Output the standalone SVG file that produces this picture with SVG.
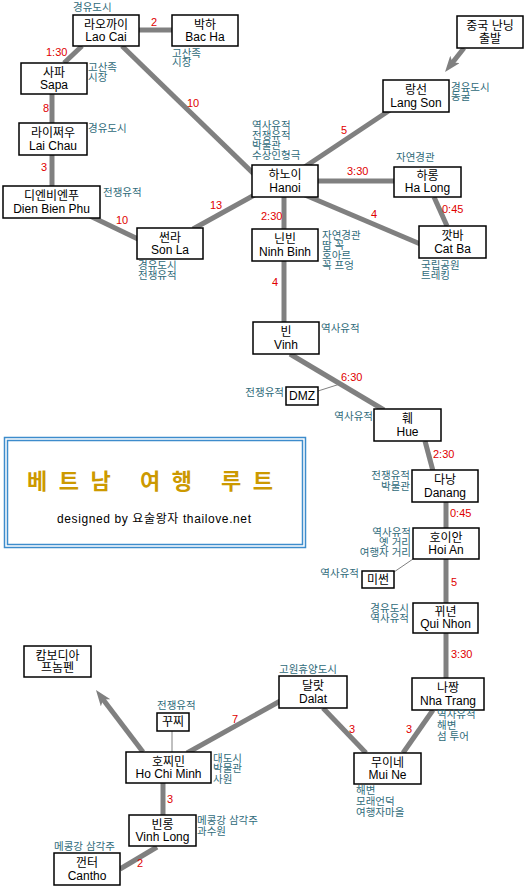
<svg xmlns="http://www.w3.org/2000/svg" width="525" height="889" viewBox="0 0 525 889">
<defs>
<style>
.n rect{fill:#fff;stroke:#000;stroke-width:1.5}
text{font-family:"Liberation Sans","Noto Sans CJK KR",sans-serif}
.t{font-size:12px;text-anchor:middle;fill:#000}
.a{font-size:10.5px;fill:#2f6b7a}
.ar{font-size:10.5px;fill:#2f6b7a;text-anchor:end}
.r{font-size:11px;fill:#e00000}
.e{stroke:#808080;stroke-width:5;fill:none}
.th{stroke:#808080;stroke-width:1;fill:none}
</style>
<marker id="ah" viewBox="0 0 16 12" refX="8" refY="6" markerWidth="16" markerHeight="12" markerUnits="userSpaceOnUse" orient="auto">
<path d="M0,0 L16,6 L0,12 L4,6 z" fill="#808080"/>
</marker>
</defs>
<rect width="525" height="889" fill="#fff"/>

<g id="connectors">
<line class="e" x1="139" y1="30" x2="172" y2="30"/>
<line class="e" x1="82" y1="46" x2="64" y2="63"/>
<line class="e" x1="122" y1="46" x2="258" y2="178"/>
<line class="e" x1="52" y1="94" x2="52" y2="123"/>
<line class="e" x1="52" y1="155" x2="52" y2="186"/>
<line class="e" x1="90" y1="216" x2="140" y2="240"/>
<line class="e" x1="193" y1="229" x2="258" y2="193"/>
<line class="e" x1="390" y1="110" x2="300" y2="170"/>
<line class="e" x1="464" y1="48" x2="450" y2="65.7" marker-end="url(#ah)"/>
<line class="e" x1="318" y1="181" x2="394" y2="181"/>
<line class="e" x1="434" y1="197" x2="447" y2="226"/>
<line class="e" x1="305" y1="195" x2="425" y2="246"/>
<line class="e" x1="284" y1="197" x2="284" y2="229"/>
<line class="e" x1="284" y1="261" x2="284" y2="322"/>
<line class="e" x1="290" y1="354" x2="384" y2="410"/>
<line class="th" x1="318" y1="391" x2="340" y2="384"/>
<line class="e" x1="425" y1="441" x2="433" y2="471"/>
<line class="e" x1="446" y1="502" x2="446" y2="528"/>
<line class="th" x1="394" y1="572" x2="413" y2="559"/>
<line class="e" x1="446" y1="559" x2="446" y2="603"/>
<line class="e" x1="446" y1="633" x2="446" y2="678"/>
<line class="e" x1="433" y1="710" x2="403" y2="753"/>
<line class="e" x1="323" y1="708" x2="366" y2="753"/>
<line class="e" x1="187" y1="753" x2="282" y2="700"/>
<line class="e" x1="143" y1="752" x2="100.8" y2="696.4" marker-end="url(#ah)"/>
<line class="th" x1="172" y1="731" x2="172" y2="752"/>
<line class="e" x1="163" y1="783" x2="163" y2="815"/>
<line class="e" x1="157" y1="847" x2="120" y2="869"/>
</g>

<g id="edge-labels">
<text class="r" x="151" y="26">2</text>
<text class="r" x="46" y="56">1:30</text>
<text class="r" x="187" y="107">10</text>
<text class="r" x="43" y="112">8</text>
<text class="r" x="41" y="171">3</text>
<text class="r" x="116" y="224">10</text>
<text class="r" x="210" y="209">13</text>
<text class="r" x="341" y="134">5</text>
<text class="r" x="347" y="175">3:30</text>
<text class="r" x="442" y="213">0:45</text>
<text class="r" x="371" y="218">4</text>
<text class="r" x="261" y="220">2:30</text>
<text class="r" x="272" y="286">4</text>
<text class="r" x="341" y="381">6:30</text>
<text class="r" x="433" y="458">2:30</text>
<text class="r" x="450" y="517">0:45</text>
<text class="r" x="451" y="586">5</text>
<text class="r" x="451" y="658">3:30</text>
<text class="r" x="349" y="733">3</text>
<text class="r" x="406" y="733">3</text>
<text class="r" x="232" y="723">7</text>
<text class="r" x="167" y="803">3</text>
<text class="r" x="137" y="867">2</text>
</g>

<g id="nanning" class="n"><rect x="457" y="16" width="66" height="32"/><text class="t" x="490" y="30">중국 난닝</text><text class="t" x="490" y="43">출발</text></g>
<g id="laocai" class="n"><rect x="73" y="15" width="66" height="31"/><text class="t" x="106" y="29">라오까이</text><text class="t" x="106" y="41">Lao Cai</text>
<text class="a" x="73" y="11">경유도시</text></g>
<g id="bacha" class="n"><rect x="172" y="15" width="66" height="31"/><text class="t" x="205" y="29">박하</text><text class="t" x="205" y="41">Bac Ha</text>
<text class="a" x="172" y="57">고산족</text><text class="a" x="172" y="66">시장</text></g>
<g id="sapa" class="n"><rect x="21" y="63" width="66" height="31"/><text class="t" x="54" y="77">사파</text><text class="t" x="54" y="89">Sapa</text>
<text class="a" x="88" y="71">고산족</text><text class="a" x="88" y="81">시장</text></g>
<g id="langson" class="n"><rect x="383" y="80" width="66" height="32"/><text class="t" x="416" y="94">랑선</text><text class="t" x="416" y="107">Lang Son</text>
<text class="a" x="451" y="91">경유도시</text><text class="a" x="451" y="100">동굴</text></g>
<g id="laichau" class="n"><rect x="19" y="123" width="68" height="32"/><text class="t" x="53" y="137">라이쩌우</text><text class="t" x="53" y="150">Lai Chau</text>
<text class="a" x="88" y="132">경유도시</text></g>
<g id="hanoi" class="n"><rect x="252" y="165" width="66" height="32"/><text class="t" x="285" y="179">하노이</text><text class="t" x="285" y="192">Hanoi</text>
<text class="a" x="252" y="129">역사유적</text><text class="a" x="252" y="139">전쟁유적</text><text class="a" x="252" y="149">박물관</text><text class="a" x="252" y="159">수상인형극</text></g>
<g id="dienbienphu" class="n"><rect x="3" y="186" width="97" height="32"/><text class="t" x="51.5" y="200">디엔비엔푸</text><text class="t" x="51.5" y="213">Dien Bien Phu</text>
<text class="a" x="103" y="196">전쟁유적</text></g>
<g id="halong" class="n"><rect x="394" y="167" width="67" height="30"/><text class="t" x="427.5" y="180">하롱</text><text class="t" x="427.5" y="192">Ha Long</text>
<text class="a" x="396" y="161">자연경관</text></g>
<g id="sonla" class="n"><rect x="137" y="228" width="66" height="31"/><text class="t" x="170" y="242">썬라</text><text class="t" x="170" y="254">Son La</text>
<text class="a" x="138" y="269">경유도시</text><text class="a" x="138" y="279">전쟁유적</text></g>
<g id="ninhbinh" class="n"><rect x="252" y="229" width="66" height="32"/><text class="t" x="285" y="243">닌빈</text><text class="t" x="285" y="256">Ninh Binh</text>
<text class="a" x="322" y="239">자연경관</text><text class="a" x="322" y="249">땀 꼭</text><text class="a" x="322" y="259">호아르</text><text class="a" x="322" y="269">꼭 프엉</text></g>
<g id="catba" class="n"><rect x="419" y="226" width="67" height="32"/><text class="t" x="452.5" y="240">깟바</text><text class="t" x="452.5" y="253">Cat Ba</text>
<text class="a" x="421" y="269">국립공원</text><text class="a" x="421" y="279">트레킹</text></g>
<g id="vinh" class="n"><rect x="253" y="322" width="66" height="32"/><text class="t" x="286" y="336">빈</text><text class="t" x="286" y="349">Vinh</text>
<text class="a" x="321" y="332">역사유적</text></g>
<g id="dmz" class="n"><rect x="286" y="387" width="32" height="18"/><text class="t" x="302" y="400">DMZ</text>
<text class="ar" x="284" y="396">전쟁유적</text></g>
<g id="hue" class="n"><rect x="374" y="409" width="67" height="32"/><text class="t" x="407.5" y="423">훼</text><text class="t" x="407.5" y="436">Hue</text>
<text class="ar" x="373" y="420">역사유적</text></g>
<g id="danang" class="n"><rect x="412" y="470" width="66" height="32"/><text class="t" x="445" y="484">다낭</text><text class="t" x="445" y="497">Danang</text>
<text class="ar" x="410" y="479">전쟁유적</text><text class="ar" x="410" y="490">박물관</text></g>
<g id="hoian" class="n"><rect x="413" y="528" width="66" height="31"/><text class="t" x="446" y="542">호이안</text><text class="t" x="446" y="554">Hoi An</text>
<text class="ar" x="411" y="536">역사유적</text><text class="ar" x="411" y="546">옛 거리</text><text class="ar" x="411" y="556">여행자 거리</text></g>
<g id="myson" class="n"><rect x="362" y="571" width="32" height="17"/><text class="t" x="378" y="584">미썬</text>
<text class="ar" x="359" y="577">역사유적</text></g>
<g id="quinhon" class="n"><rect x="413" y="603" width="65" height="30"/><text class="t" x="445.5" y="616">뀌년</text><text class="t" x="445.5" y="628">Qui Nhon</text>
<text class="ar" x="409" y="612">경유도시</text><text class="ar" x="409" y="622">역사유적</text></g>
<g id="nhatrang" class="n"><rect x="412" y="678" width="72" height="32"/><text class="t" x="448" y="692">나짱</text><text class="t" x="448" y="705">Nha Trang</text>
<text class="a" x="437" y="718">역사유적</text><text class="a" x="437" y="729">해변</text><text class="a" x="437" y="740">섬 투어</text></g>
<g id="dalat" class="n"><rect x="279" y="676" width="68" height="32"/><text class="t" x="313" y="690">달랏</text><text class="t" x="313" y="703">Dalat</text>
<text class="a" x="279" y="673">고원휴양도시</text></g>
<g id="muine" class="n"><rect x="354" y="753" width="67" height="31"/><text class="t" x="387.5" y="767">무이네</text><text class="t" x="387.5" y="779">Mui Ne</text>
<text class="a" x="356" y="794">해변</text><text class="a" x="356" y="805">모래언덕</text><text class="a" x="356" y="816">여행자마을</text></g>
<g id="cambodia" class="n"><rect x="24" y="646" width="67" height="31"/><text class="t" x="57.5" y="660">캄보디아</text><text class="t" x="57.5" y="672">프놈펜</text></g>
<g id="cuchi" class="n"><rect x="157" y="713" width="32" height="18"/><text class="t" x="173" y="726">꾸찌</text>
<text class="a" x="157" y="709">전쟁유적</text></g>
<g id="hochiminh" class="n"><rect x="126" y="752" width="85" height="31"/><text class="t" x="168.5" y="766">호찌민</text><text class="t" x="168.5" y="778">Ho Chi Minh</text>
<text class="a" x="213" y="762">대도시</text><text class="a" x="213" y="772">박물관</text><text class="a" x="213" y="783">사원</text></g>
<g id="vinhlong" class="n"><rect x="129" y="815" width="67" height="31"/><text class="t" x="162.5" y="829">빈롱</text><text class="t" x="162.5" y="841">Vinh Long</text>
<text class="a" x="197" y="824">메콩강 삼각주</text><text class="a" x="197" y="835">과수원</text></g>
<g id="cantho" class="n"><rect x="54" y="853" width="66" height="32"/><text class="t" x="87" y="867">껀터</text><text class="t" x="87" y="880">Cantho</text>
<text class="a" x="54" y="850">메콩강 삼각주</text></g>

<g id="title">
<rect x="4.5" y="437.5" width="301" height="110" fill="none" stroke="#3d8ccc" stroke-width="1.5"/>
<rect x="7.5" y="440.5" width="295" height="104" fill="none" stroke="#3d8ccc" stroke-width="1.5"/>
<text x="27" y="489" font-size="22" font-weight="bold" fill="#cc9900" textLength="246" lengthAdjust="spacing">베트남 여행 루트</text>
<text x="57" y="523" font-size="12" fill="#000" textLength="194" lengthAdjust="spacing">designed by 요술왕자 thailove.net</text>
</g>
</svg>
